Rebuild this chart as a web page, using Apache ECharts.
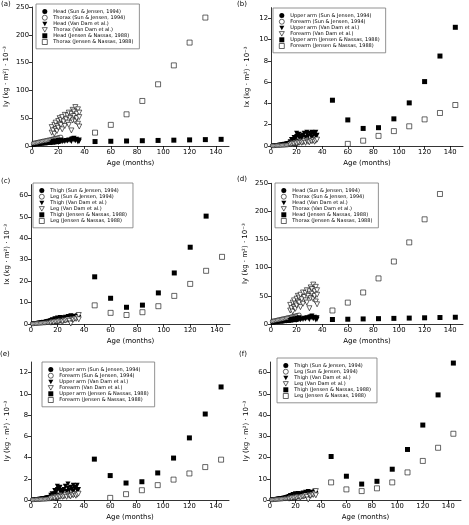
<!DOCTYPE html>
<html><head><meta charset="utf-8">
<script src="https://cdn.jsdelivr.net/npm/echarts@6/dist/echarts.min.js"></script>
<style>html,body{margin:0;padding:0;background:#fff}#c{width:469px;height:525px}</style>
</head><body><div id="c"></div>
<script>
// ---------- data ----------
const xTicks = [0,20,40,60,80,100,120,140];
const jnAges = [48,60,72,84,96,108,120,132,144];

// (a) and (d): Iy head / thorax
const a_headSJ = [[1,2.0],[2,2.3],[3,2.6],[3,3.0],[4,3.0],[5,3.3],[6,3.5],[6,3.9],[7,3.8],[8,4.0],[9,4.3],[9,4.6],[10,4.5],[11,4.7],[12,5.0],[12,5.4],[13,5.2],[14,5.5],[15,5.7],[15,6.2],[16,6.0],[17,6.3],[18,6.5],[18,7.0],[19,6.8],[20,7.1],[21,7.4]];
const a_thoraxSJ = [[1,5],[2,5.5],[3,6],[4,6.5],[5,7],[6,7.5],[7,8],[8,8.6],[9,9],[10,9.5],[11,10],[12,10.6],[13,11],[14,11.6],[15,12],[16,12.8],[17,13.2],[18,13.8],[19,14.3],[20,15],[21,15.6],[22,16]];
const a_headVD = [[15,6],[16,7],[16,8.5],[17,6.5],[18,7.5],[18,9],[19,8],[20,6.5],[20,10],[21,8],[22,9],[22,11],[23,7.5],[24,9.5],[25,8],[26,10],[27,9],[28,11],[29,10],[30,12],[30,8],[31,13],[32,11],[32,14],[33,9.5],[34,12],[35,10],[35,7],[36,11],[36,8.5]];
const a_thoraxVD = [[15,24],[15,34],[16,28],[17,22],[17,38],[18,30],[18,42],[19,27],[19,36],[20,45],[20,33],[21,50],[21,40],[22,38],[22,47],[23,30],[23,52],[24,44],[25,36],[25,56],[26,48],[27,55],[27,42],[28,60],[28,38],[29,50],[30,58],[30,28],[31,46],[31,65],[32,54],[32,62],[33,44],[33,70],[34,58],[34,50],[35,66],[35,40],[36,60],[36,35],[36,52]];
const a_headJN = [8,8.5,9,9.5,10,10.5,11,11.5,12];
const a_thoraxJN = [24,38,57,81,111,145,186,231,null];
const d_headJN = [8,8.5,9,9.5,10,10.5,11,11.5,12];
const d_thoraxJN = [24,38,56,81,111,145,186,231,null];

// (b) Ix upper arm / forearm, (e) Iy upper arm / forearm
const b_uaSJ = [[1,0.05],[2,0.07],[3,0.08],[4,0.1],[5,0.12],[6,0.14],[7,0.16],[8,0.18],[9,0.2],[10,0.22],[11,0.25],[12,0.28],[13,0.3],[14,0.33],[15,0.36],[16,0.4],[17,0.43],[18,0.47],[19,0.5],[20,0.54]];
const b_faSJ = [[1,0.02],[2,0.03],[3,0.03],[4,0.04],[5,0.05],[6,0.05],[7,0.06],[8,0.07],[9,0.08],[10,0.08],[11,0.09],[12,0.1],[13,0.11],[14,0.12],[15,0.13],[16,0.14],[17,0.15],[18,0.17],[19,0.18],[20,0.2]];
const b_uaVD = [[15,0.4],[16,0.6],[17,0.5],[18,0.8],[18,0.55],[19,0.7],[20,0.9],[20,1.2],[21,1.0],[22,0.8],[22,1.1],[23,0.9],[24,0.7],[25,1.0],[26,1.2],[27,0.8],[28,1.1],[28,1.3],[29,0.9],[30,1.2],[31,1.0],[32,1.3],[32,0.8],[33,1.1],[34,1.2],[35,0.9],[35,1.3],[36,1.0]];
const b_faVD = [[15,0.15],[16,0.2],[17,0.25],[18,0.2],[19,0.3],[20,0.25],[21,0.35],[22,0.3],[23,0.4],[24,0.3],[25,0.35],[26,0.45],[27,0.3],[28,0.5],[29,0.4],[30,0.35],[31,0.5],[32,0.45],[33,0.55],[34,0.4],[35,0.5],[36,0.6]];
const b_uaJN = [4.3,2.45,1.65,1.72,2.55,4.05,6.05,8.45,11.15];
const b_faJN = [null,0.2,0.5,0.95,1.4,1.85,2.5,3.1,3.85];
const e_uaVD = [[15,0.45],[16,0.6],[17,0.5],[18,0.9],[18,0.6],[19,0.75],[20,1.0],[20,1.3],[21,1.1],[22,0.8],[22,1.2],[23,0.9],[24,0.7],[25,1.0],[26,1.3],[27,0.8],[28,1.5],[28,1.1],[29,0.9],[30,1.2],[31,1.0],[32,1.4],[32,0.8],[33,1.1],[34,1.2],[35,0.9],[35,1.4],[36,1.0]];
const e_uaJN = [3.85,2.3,1.6,1.72,2.55,3.95,5.85,8.1,10.65];
const e_faJN = [null,0.2,0.55,0.92,1.4,1.92,2.5,3.1,3.8];

// (c) Ix thigh / leg, (f) Iy thigh / leg
const c_thighSJ = [[1,0.3],[2,0.4],[3,0.5],[4,0.6],[5,0.7],[6,0.8],[7,0.9],[8,1.0],[9,1.1],[10,1.2],[11,1.35],[12,1.5],[13,1.6],[14,1.75],[15,1.9],[16,2.0],[17,2.15],[18,2.3],[19,2.45],[20,2.6]];
const c_legSJ = [[1,0.1],[2,0.15],[3,0.2],[4,0.25],[5,0.3],[6,0.35],[7,0.4],[8,0.45],[9,0.5],[10,0.55],[11,0.6],[12,0.65],[13,0.7],[14,0.75],[15,0.8],[16,0.9],[17,0.95],[18,1.05],[19,1.15],[20,1.25]];
const c_thighVD = [[15,1.5],[16,2.0],[17,1.8],[18,2.5],[19,2.2],[20,2.8],[21,2.4],[22,3.0],[23,2.6],[24,2.2],[25,2.9],[26,3.2],[27,2.5],[28,3.5],[29,3.0],[30,3.8],[30,2.4],[31,3.2],[32,3.6],[33,2.8],[34,3.4],[35,3.9],[36,3.0]];
const c_legVD = [[15,0.6],[16,0.9],[17,0.8],[18,1.1],[19,1.0],[20,1.3],[21,1.2],[22,1.5],[23,1.4],[24,1.2],[25,1.7],[26,1.6],[27,1.9],[28,2.1],[29,1.5],[30,0.2],[31,2.3],[32,2.0],[33,2.6],[34,2.4],[35,3.0],[36,4.2],[36,2.2]];
const c_thighJN = [22,12,7.8,8.8,14.5,23.8,35.8,50.3,null];
const c_legJN = [8.7,5.2,4.2,5.5,8.3,13.1,18.7,24.8,31.3];
const f_thighVD = [[15,1.6],[16,2.1],[17,1.9],[18,2.6],[19,2.3],[20,2.9],[21,2.5],[22,3.1],[23,2.7],[24,2.3],[25,3.0],[26,3.3],[27,2.6],[28,3.6],[29,3.1],[30,4.0],[30,2.5],[31,3.3],[32,3.7],[33,2.9],[34,3.5],[35,4.1],[36,3.1]];
const f_thighJN = [20.5,11.2,7.5,8.8,14.5,23.8,35.3,49.5,64.5];
const f_legJN = [8.3,5.0,4.2,5.5,8.3,13.0,18.4,24.6,31.2];

// ---------- helpers ----------
const FONT = 'DejaVu Sans';
const DOWN_TRI = 'path://M0,0 L10,0 L5,9 Z';
function pairs(vals){ return jnAges.map((a,i)=> vals[i]==null ? null : [a, vals[i]]).filter(p=>p); }

const styles = {
  fc: {symbol:'circle', symbolSize:4, itemStyle:{color:'#000', borderWidth:0, opacity:1}},
  oc: {symbol:'circle', symbolSize:4, itemStyle:{color:'#fff', borderColor:'#000', borderWidth:0.6, opacity:1}},
  ft: {symbol:DOWN_TRI, symbolSize:[5,5], itemStyle:{color:'#000', borderWidth:0, opacity:1}},
  ot: {symbol:DOWN_TRI, symbolSize:[5,5], itemStyle:{color:'#fff', borderColor:'#000', borderWidth:0.6, opacity:1}},
  fs: {symbol:'rect', symbolSize:5, itemStyle:{color:'#000', borderWidth:0, opacity:1}},
  os: {symbol:'rect', symbolSize:5, itemStyle:{color:'#fff', borderColor:'#000', borderWidth:0.6, opacity:1}}
};

const panels = [
  {tag:'(a)', tpos:[1,1], grid:{left:32,top:7,width:197,height:139}, ymax:250, yint:50, yname:'Iy (kg · m²) · 10⁻³', leg:{left:36,top:4},
   ser:[['Head (Sun & Jensen, 1994)','fc',a_headSJ],['Thorax (Sun & Jensen, 1994)','oc',a_thoraxSJ],['Head (Van Dam et al.)','ft',a_headVD],['Thorax (Van Dam et al.)','ot',a_thoraxVD],['Head (Jensen & Nassas, 1988)','fs',pairs(a_headJN)],['Thorax (Jensen & Nassas, 1988)','os',pairs(a_thoraxJN)]]},
  {tag:'(b)', tpos:[237,1], grid:{left:271,top:7.6,width:192,height:138.4}, ymax:13, yint:2, yname:'Ix (kg · m²) · 10⁻³', leg:{left:273,top:8},
   ser:[['Upper arm (Sun & Jensen, 1994)','fc',b_uaSJ],['Forearm (Sun & Jensen, 1994)','oc',b_faSJ],['Upper arm (Van Dam et al.)','ft',b_uaVD],['Forearm (Van Dam et al.)','ot',b_faVD],['Upper arm (Jensen & Nassas, 1988)','fs',pairs(b_uaJN)],['Forearm (Jensen & Nassas, 1988)','os',pairs(b_faJN)]]},
  {tag:'(c)', tpos:[1,178], grid:{left:31,top:184.6,width:199,height:139.4}, ymax:65, yint:10, yname:'Ix (kg · m²) · 10⁻³', leg:{left:33,top:183},
   ser:[['Thigh (Sun & Jensen, 1994)','fc',c_thighSJ],['Leg (Sun & Jensen, 1994)','oc',c_legSJ],['Thigh (Van Dam et al.)','ft',c_thighVD],['Leg (Van Dam et al.)','ot',c_legVD],['Thigh (Jensen & Nassas, 1988)','fs',pairs(c_thighJN)],['Leg (Jensen & Nassas, 1988)','os',pairs(c_legJN)]]},
  {tag:'(d)', tpos:[237,176], grid:{left:271,top:183.3,width:192,height:140.7}, ymax:250, yint:50, yname:'Iy (kg · m²) · 10⁻³', leg:{left:275,top:183},
   ser:[['Head (Sun & Jensen, 1994)','fc',a_headSJ],['Thorax (Sun & Jensen, 1994)','oc',a_thoraxSJ],['Head (Van Dam et al.)','ft',a_headVD],['Thorax (Van Dam et al.)','ot',a_thoraxVD],['Head (Jensen & Nassas, 1988)','fs',pairs(d_headJN)],['Thorax (Jensen & Nassas, 1988)','os',pairs(d_thoraxJN)]]},
  {tag:'(e)', tpos:[0,351], grid:{left:31,top:362,width:198,height:138}, ymax:13, yint:2, yname:'Iy (kg · m²) · 10⁻³', leg:{left:42,top:362},
   ser:[['Upper arm (Sun & Jensen, 1994)','fc',b_uaSJ],['Forearm (Sun & Jensen, 1994)','oc',b_faSJ],['Upper arm (Van Dam et al.)','ft',e_uaVD],['Forearm (Van Dam et al.)','ot',b_faVD],['Upper arm (Jensen & Nassas, 1988)','fs',pairs(e_uaJN)],['Forearm (Jensen & Nassas, 1988)','os',pairs(e_faJN)]]},
  {tag:'(f)', tpos:[239,351], grid:{left:270,top:362,width:191,height:138}, ymax:65, yint:10, yname:'Iy (kg · m²) · 10⁻³', leg:{left:277,top:358},
   ser:[['Thigh (Sun & Jensen, 1994)','fc',c_thighSJ],['Leg (Sun & Jensen, 1994)','oc',c_legSJ],['Thigh (Van Dam et al.)','ft',f_thighVD],['Leg (Van Dam et al.)','ot',c_legVD],['Thigh (Jensen & Nassas, 1988)','fs',pairs(f_thighJN)],['Leg (Jensen & Nassas, 1988)','os',pairs(f_legJN)]]}
];

const axisCommon = {
  axisLine:{show:true, lineStyle:{color:'#000', width:0.8}},
  axisTick:{show:true, inside:false, length:3, lineStyle:{color:'#000', width:0.8}},
  splitLine:{show:false},
  nameTextStyle:{color:'#000', fontFamily:FONT, fontSize:7}
};

const option = {
  animation:false,
  backgroundColor:'#fff',
  title:[], grid:[], xAxis:[], yAxis:[], legend:[], series:[]
};

panels.forEach((p,i)=>{
  option.title.push({text:p.tag, left:p.tpos[0], top:p.tpos[1], padding:0, textStyle:{fontFamily:FONT, fontSize:7, fontWeight:'normal', color:'#000'}});
  option.grid.push(Object.assign({containLabel:false}, p.grid));
  option.xAxis.push(Object.assign({}, axisCommon, {
    type:'value', gridIndex:i, min:0, max:150, interval:20,
    name:'Age (months)', nameLocation:'middle', nameGap:14,
    axisLabel:{color:'#000', fontFamily:FONT, fontSize:6.8, margin:3, showMaxLabel:false,
      formatter:v=> xTicks.indexOf(v)>=0 ? String(v) : ''}
  }));
  option.yAxis.push(Object.assign({}, axisCommon, {
    type:'value', gridIndex:i, min:0, max:p.ymax, interval:p.yint,
    name:p.yname, nameLocation:'middle', nameGap: p.ymax===250 ? 22 : 20,
    axisLabel:{color:'#000', fontFamily:FONT, fontSize:6.8, margin:3, showMaxLabel: p.ymax===250}
  }));
  option.legend.push({
    orient:'vertical', left:p.leg.left, top:p.leg.top,
    data:p.ser.map(s=>({name:s[0], icon:styles[s[1]].symbol, itemStyle:Object.assign({}, styles[s[1]].itemStyle)})),
    itemWidth:5, itemHeight:5, itemGap:0.9,
    padding:[5,6,4,6],
    borderColor:'#777', borderWidth:0.8,
    textStyle:{fontFamily:FONT, fontSize:5, color:'#000', padding:[0,0,0,1]},
    selectedMode:false
  });
  p.ser.forEach(s=>{
    const st = styles[s[1]];
    option.series.push({
      type:'scatter', name:s[0], xAxisIndex:i, yAxisIndex:i, data:s[2],
      symbol:st.symbol, symbolSize:st.symbolSize, itemStyle:st.itemStyle,
      clip:true
    });
  });
});

const chart = echarts.init(document.getElementById('c'), null, {renderer:'canvas'});
chart.setOption(option);
</script>
</body></html>
